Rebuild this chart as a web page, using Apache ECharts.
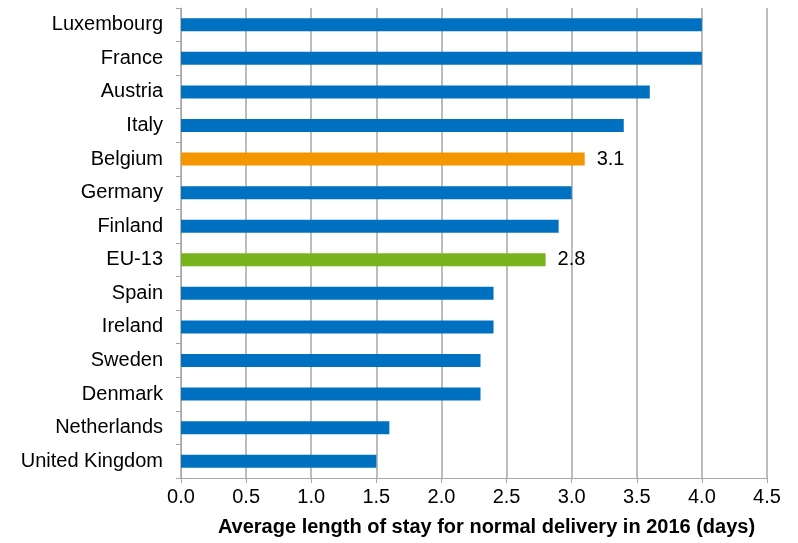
<!DOCTYPE html>
<html>
<head>
<meta charset="utf-8">
<script src="https://cdn.jsdelivr.net/npm/echarts@6/dist/echarts.min.js"></script>
<style>
  html, body { margin: 0; padding: 0; background: #fff; }
  #chart { width: 798px; height: 543px; }
</style>
</head>
<body>
<div id="chart"></div>
<script>
// categories, top to bottom as shown
const countries = ['Luxembourg', 'France', 'Austria', 'Italy', 'Belgium', 'Germany', 'Finland',
  'EU-13', 'Spain', 'Ireland', 'Sweden', 'Denmark', 'Netherlands', 'United Kingdom'];
const stayDays = [4.0, 4.0, 3.6, 3.4, 3.1, 3.0, 2.9, 2.8, 2.4, 2.4, 2.3, 2.3, 1.6, 1.5];
const xTicks = [0, 0.5, 1, 1.5, 2, 2.5, 3, 3.5, 4, 4.5];

const blue = '#0070C0';
const highlight = { 'Belgium': '#F39600', 'EU-13': '#79B41E' };
const font = 'Liberation Sans, Arial, sans-serif';

const chart = echarts.init(document.getElementById('chart'), null, { renderer: 'canvas' });

const data = countries.map((c, i) => {
  const item = { value: stayDays[i], itemStyle: { color: highlight[c] || blue } };
  if (highlight[c]) {
    item.label = {
      show: true,
      position: 'right',
      distance: 12,
      formatter: (p) => p.value.toFixed(1),
      color: '#000',
      fontSize: 20,
      fontFamily: font
    };
  }
  return item;
});

chart.setOption({
  animation: false,
  grid: { left: 181, right: 31, top: 8, bottom: 65, outerBoundsMode: 'none', containLabel: false },
  xAxis: {
    type: 'value',
    min: xTicks[0],
    max: xTicks[xTicks.length - 1],
    interval: 0.5,
    name: 'Average length of stay for normal delivery in 2016 (days)',
    nameLocation: 'middle',
    nameGap: 39,
    nameTextStyle: {
      color: '#000', fontSize: 20, fontWeight: 'bold',
      fontFamily: font,
      padding: [0, 0, 0, 25]
    },
    axisLine: { show: true, lineStyle: { color: '#a6a6a6', width: 1 } },
    axisTick: { show: true, length: 5, lineStyle: { color: '#a6a6a6' } },
    axisLabel: {
      margin: 9, color: '#000', fontSize: 20,
      fontFamily: font,
      formatter: (v) => v.toFixed(1)
    },
    splitLine: { show: true, lineStyle: { color: '#a6a6a6', width: 1.5 } }
  },
  yAxis: {
    type: 'category',
    data: countries,
    inverse: true,
    axisLine: { show: true, lineStyle: { color: '#a6a6a6', width: 1 } },
    axisTick: { show: true, length: 5, lineStyle: { color: '#a6a6a6' } },
    axisLabel: {
      margin: 18, color: '#000', fontSize: 20,
      fontFamily: font
    },
    splitLine: { show: false }
  },
  series: [{
    type: 'bar',
    data: data,
    barWidth: 13
  }]
});
</script>
</body>
</html>
